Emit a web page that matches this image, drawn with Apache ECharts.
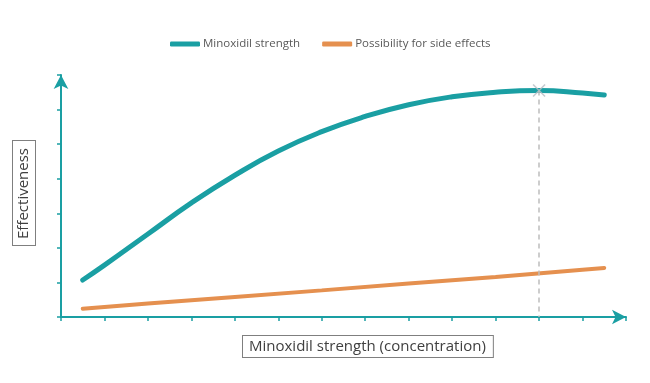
<!DOCTYPE html>
<html>
<head>
<meta charset="utf-8">
<script src="https://cdn.jsdelivr.net/npm/echarts@6/dist/echarts.min.js"></script>
<style>html,body{margin:0;padding:0;background:#fff}#c{width:650px;height:383px}</style>
</head>
<body>
<div id="c"></div>
<script>
const strengthX = [0.5, 1, 2, 3, 4, 5, 6, 7, 8, 9, 10, 11, 12, 12.5];
const strengthY = [1.07, 1.5, 2.4, 3.3, 4.1, 4.8, 5.36, 5.8, 6.14, 6.37, 6.5, 6.55, 6.48, 6.42];
const sideX = [0.5, 2, 4, 6, 8, 10, 12, 12.5];
const sideY = [0.24, 0.39, 0.58, 0.77, 0.97, 1.16, 1.37, 1.42];
const peak = [11, 6.55];
const seriesNames = ['Minoxidil strength', 'Possibility for side effects'];
const axisTitles = ['Minoxidil strength (concentration)', 'Effectiveness'];

const teal = '#1a9fa3';
const orange = '#e5904f';
const font = '"Open Sans", "Liberation Sans", sans-serif';

const chart = echarts.init(document.getElementById('c'), null, {renderer: 'canvas'});
chart.setOption({
  animation: false,
  legend: {
    top: 33, left: 165,
    itemWidth: 30, itemHeight: 5, itemGap: 22,
    icon: 'roundRect',
    textStyle: {color: '#595959', fontSize: 11.5, fontFamily: font, padding: [0, 0, 0, -2]},
    data: seriesNames
  },
  grid: {left: 61, top: 75, width: 565, height: 242, containLabel: false},
  xAxis: {
    type: 'value', min: 0, max: 13, interval: 1,
    axisLine: {show: true, lineStyle: {color: teal, width: 2}, symbol: ['none', 'arrow'], symbolSize: [11, 14]},
    axisTick: {show: true, length: 4, lineStyle: {color: teal, width: 1.5}},
    axisLabel: {show: false},
    splitLine: {show: false}
  },
  yAxis: {
    type: 'value', min: 0, max: 7, interval: 1,
    axisLine: {show: true, lineStyle: {color: teal, width: 2}, symbol: ['none', 'arrow'], symbolSize: [11, 14]},
    axisTick: {show: true, length: 4, lineStyle: {color: teal, width: 1.5}},
    axisLabel: {show: false},
    splitLine: {show: false}
  },
  series: [
    {
      name: seriesNames[0], type: 'line', smooth: true,
      showSymbol: false, symbol: 'none',
      itemStyle: {color: teal},
      lineStyle: {color: teal, width: 5, cap: 'round'},
      data: strengthX.map((x, i) => [x, strengthY[i]]),
      markLine: {
        silent: true, symbol: 'none',
        lineStyle: {color: '#bdbdbd', type: [5, 4], width: 1.5},
        label: {show: false},
        data: [[{coord: [peak[0], peak[1]]}, {coord: [peak[0], 0]}]]
      },
      z: 3
    },
    {
      name: seriesNames[1], type: 'line',
      showSymbol: false, symbol: 'none',
      itemStyle: {color: orange},
      lineStyle: {color: orange, width: 4, cap: 'round'},
      data: sideX.map((x, i) => [x, sideY[i]]),
      z: 2
    },
    {
      type: 'scatter', silent: true,
      symbol: 'path://M0,0L10,10M10,0L0,10', symbolSize: 12,
      itemStyle: {color: 'none', borderColor: '#b8bec4', borderWidth: 1.6},
      data: [peak], z: 4
    }
  ],
  graphic: [
    {
      type: 'text', left: 242, top: 335,
      style: {
        text: axisTitles[0], fontSize: 15, fontFamily: font, fill: '#404040',
        borderColor: '#7f7f7f', borderWidth: 1, padding: [3, 7, 3, 6], backgroundColor: '#fff'
      }
    },
    {
      type: 'text', x: 13, y: 245, rotation: Math.PI / 2,
      style: {
        text: axisTitles[1], fontSize: 15, fontFamily: font, fill: '#404040',
        borderColor: '#7f7f7f', borderWidth: 1, padding: [3, 7, 4, 6], backgroundColor: '#fff'
      }
    }
  ]
});
</script>
</body>
</html>
